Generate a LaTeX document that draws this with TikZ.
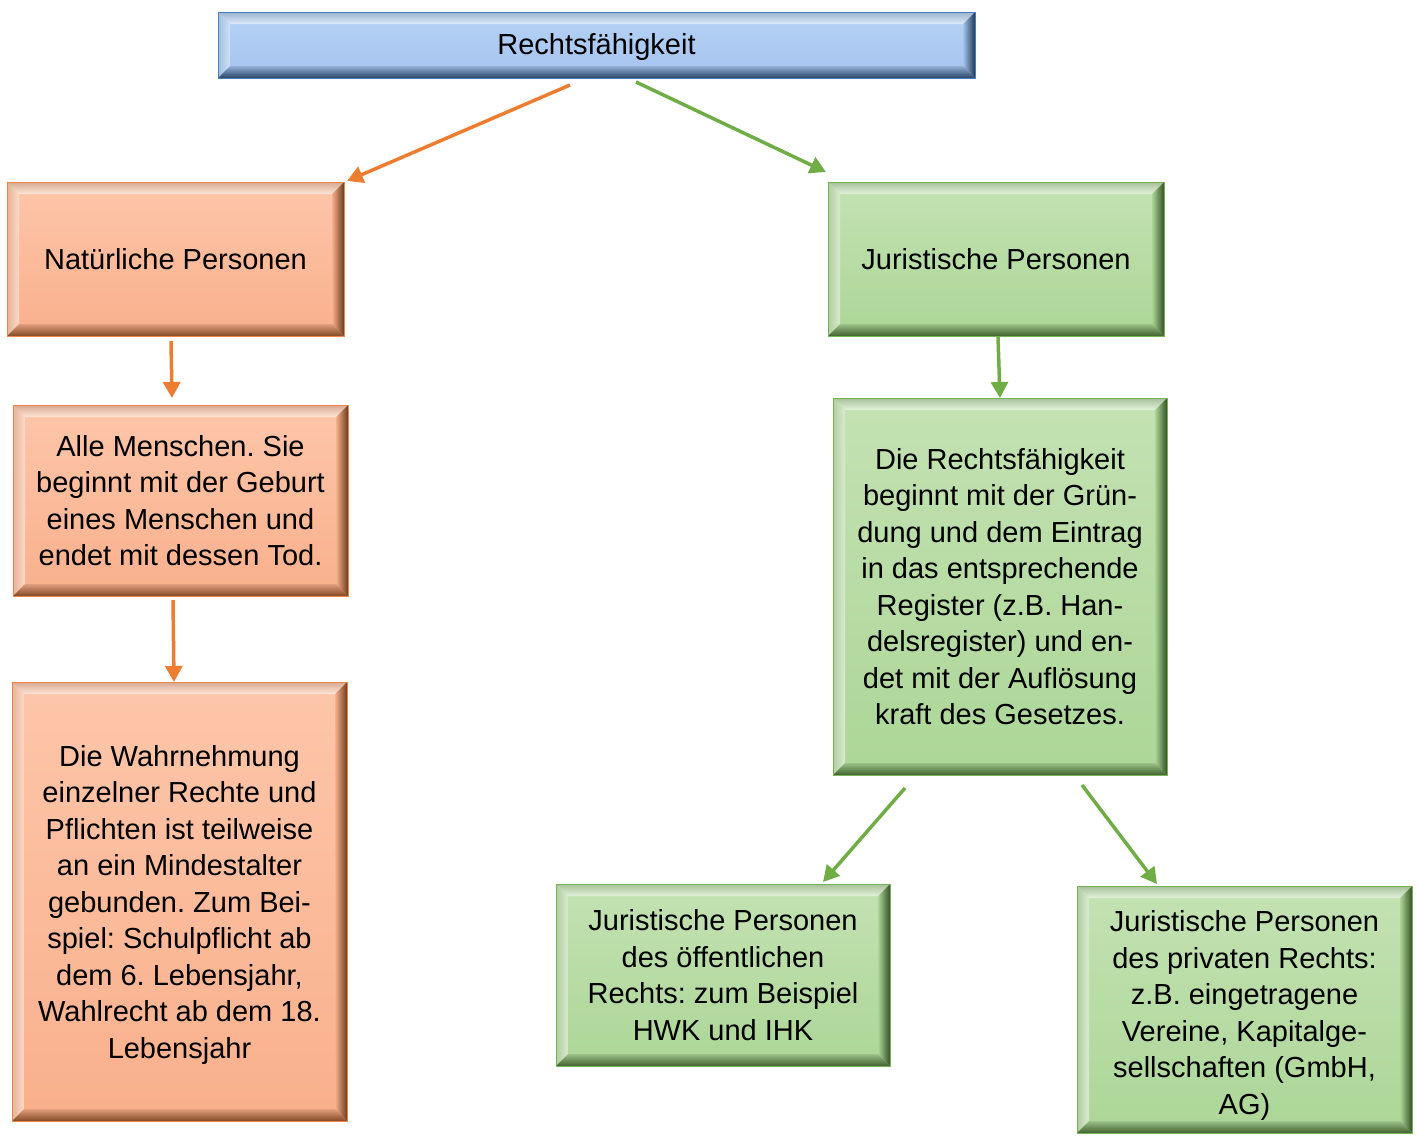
\documentclass[tikz,border=0pt]{standalone}
\usepackage{fontspec}
\setmainfont{Liberation Sans}
\usetikzlibrary{arrows.meta,calc}
\definecolor{bluetop}{HTML}{B6D2F5}
\definecolor{bluebot}{HTML}{A4C3EE}
\definecolor{blueedge}{HTML}{4A7EBB}
\definecolor{orgtop}{HTML}{FDC6AA}
\definecolor{orgbot}{HTML}{F9B08C}
\definecolor{orgedge}{HTML}{EE8544}
\definecolor{grntop}{HTML}{C4E2B3}
\definecolor{grnbot}{HTML}{ACD697}
\definecolor{grnedge}{HTML}{77B255}
\definecolor{arrorg}{HTML}{ED7D31}
\definecolor{arrgrn}{HTML}{70AD47}
\frenchspacing
\begin{document}
\begin{tikzpicture}[x=1pt,y=-1pt,
  box/.style n args={3}{draw=#3, line width=0.8pt, inner sep=0pt, align=center,
    top color=#1, bottom color=#2,
    font=\fontsize{29}{36.5}\selectfont,
    path picture={
      \path (path picture bounding box.north west) coordinate (pnw)
            (path picture bounding box.north east) coordinate (pne)
            (path picture bounding box.south west) coordinate (psw)
            (path picture bounding box.south east) coordinate (pse);
      \shade[top color=#1!85!black, bottom color=white!55!#1]
        (pnw) -- (pne) -- ($(pne)+(-12,12)$) -- ($(pnw)+(12,12)$) -- cycle;
      \shade[left color=#1!90!black, right color=white!35!#1]
        (pnw) -- ($(pnw)+(12,12)$) -- ($(psw)+(12,-12)$) -- (psw) -- cycle;
      \shade[left color=#2, right color=#3!45!black]
        (pne) -- (pse) -- ($(pse)+(-12,-12)$) -- ($(pne)+(-12,12)$) -- cycle;
      \shade[top color=#2!90!black, bottom color=#3!55!black]
        (psw) -- (pse) -- ($(pse)+(-12,-12)$) -- ($(psw)+(12,-12)$) -- cycle;
    }},
  bluebox/.style={box={bluetop}{bluebot}{blueedge}},
  orgbox/.style={box={orgtop}{orgbot}{orgedge}},
  grnbox/.style={box={grntop}{grnbot}{grnedge}},
  arr/.style={draw=#1, line width=3.5pt, -{Triangle[length=16pt,width=17pt]}},
]
\useasboundingbox (0,0) rectangle (1418,1135);

\node[bluebox, minimum width=757pt, minimum height=66pt] (top) at (596.5,45) {\rule{0pt}{25pt}Rechtsfähigkeit};

\node[orgbox, minimum width=337pt, minimum height=154pt] (nat) at (175.5,259) {Natürliche Personen};
\node[orgbox, minimum width=335pt, minimum height=191pt] (alle) at (180.5,500.5)
  {Alle Menschen. Sie\\beginnt mit der Geburt\\eines Menschen und\\endet mit dessen Tod.};
\node[orgbox, minimum width=335pt, minimum height=439pt] (wahr) at (179.5,901.5)
  {\rule{0pt}{27pt}Die Wahrnehmung\\einzelner Rechte und\\Pflichten ist teilweise\\an ein Mindestalter\\gebunden. Zum Bei-\\spiel: Schulpflicht ab\\dem 6. Lebensjahr,\\Wahlrecht ab dem 18.\\Lebensjahr};

\node[grnbox, minimum width=336pt, minimum height=154pt] (jur) at (996,259) {Juristische Personen};
\node[grnbox, minimum width=334pt, minimum height=377pt] (rf) at (1000,586.5)
  {Die Rechtsfähigkeit\\beginnt mit der Grün-\\dung und dem Eintrag\\in das entsprechende\\Register (z.B. Han-\\delsregister) und en-\\det mit der Auflösung\\kraft des Gesetzes.};
\node[grnbox, minimum width=334pt, minimum height=182pt] (oef) at (723,975)
  {Juristische Personen\\des öffentlichen\\Rechts: zum Beispiel\\HWK und IHK};
\node[grnbox, minimum width=335pt, minimum height=247pt] (priv) at (1244.5,1009.5)
  {\rule{0pt}{33pt}Juristische Personen\\des privaten Rechts:\\z.B. eingetragene\\Vereine, Kapitalge-\\sellschaften (GmbH,\\AG)};

\coordinate (a1s) at (570,85);   \coordinate (a1e) at (347,181);
\coordinate (a2s) at (636,82);   \coordinate (a2e) at (826,172);
\coordinate (a3s) at (171,341);  \coordinate (a3e) at (172,398);
\coordinate (a4s) at (173,600);  \coordinate (a4e) at (174,682);
\coordinate (a5s) at (998,337);  \coordinate (a5e) at (1000,398);
\coordinate (a6s) at (905,788);  \coordinate (a6e) at (823,882);
\coordinate (a7s) at (1082,785); \coordinate (a7e) at (1157,884);

\draw[arr=arrorg] (a1s) -- (a1e);
\draw[arr=arrgrn] (a2s) -- (a2e);
\draw[arr=arrorg] (a3s) -- (a3e);
\draw[arr=arrorg] (a4s) -- (a4e);
\draw[arr=arrgrn] (a5s) -- (a5e);
\draw[arr=arrgrn] (a6s) -- (a6e);
\draw[arr=arrgrn] (a7s) -- (a7e);
\end{tikzpicture}
\end{document}
